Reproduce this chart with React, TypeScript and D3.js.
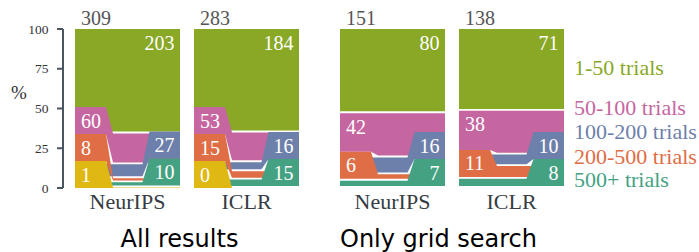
import React from "react";
import * as d3 from "d3";

const categories = ["1-50 trials", "50-100 trials", "100-200 trials", "200-500 trials", "500+ trials", "unknown"];
const colors = ["#89a826", "#c666a1", "#6d7fab", "#df6d45", "#44a283", "#e0b813"];
const labelSide = ["right", "left", "right", "left", "right", "left"];
const groupTitles = ["All results", "Only grid search"];
const venues = ["NeurIPS", "ICLR"];
const allNeurIPS = [203, 60, 27, 8, 10, 1];
const allICLR = [184, 53, 16, 15, 15, 0];
const gridNeurIPS = [80, 42, 16, 6, 7, 0];
const gridICLR = [71, 38, 10, 11, 8, 0];
const labeledAll = [true, true, true, true, true, true];
const labeledGrid = [true, true, true, true, true, false];
const yTicks = [0, 25, 50, 75, 100];
const legendLabels = ["1-50 trials", "50-100 trials", "100-200 trials", "200-500 trials", "500+ trials"];

const SERIF = "'Liberation Serif', 'DejaVu Serif', serif";
const SANS = "'DejaVu Sans', sans-serif";

const W = 699;
const H = 252;
const PANEL_W = 105;
const TAB_W = 31;
const TAB_H = 27;
const SLANT = 7;
const GAP = 1.9;

const y = d3.scaleLinear().domain([0, 100]).range([188, 29]);

type Band = { top: number; bot: number };
type Tab = { top: number; bot: number } | null;

function layout(values: number[], labeled: boolean[]) {
  const total = d3.sum(values);
  const n = values.length;
  const cum = d3.cumsum(values);
  const bands: Band[] = values.map((v, i) => {
    const start = i === 0 ? 0 : cum[i - 1];
    const top = y(100 - (start / total) * 100);
    const bot = y(100 - (cum[i] / total) * 100);
    const visBot = i === n - 1 ? bot : Math.max(top, bot - GAP);
    return { top, bot: visBot };
  });
  const tabs: { left: Tab; right: Tab }[] = values.map(() => ({ left: null, right: null }));
  (["left", "right"] as const).forEach((side) => {
    let limit = Infinity;
    for (let i = n - 1; i >= 0; i--) {
      if (!labeled[i] || labelSide[i] !== side) continue;
      const tb = Math.min(bands[i].bot, limit);
      const tt = Math.min(bands[i].top, tb - TAB_H);
      tabs[i][side] = { top: tt, bot: tb };
      limit = tt;
    }
  });
  return { total, bands, tabs };
}

const line = d3.line<[number, number]>().curve(d3.curveLinearClosed);

function Panel({ x0, values, labeled, venue }: { x0: number; values: number[]; labeled: boolean[]; venue: string }) {
  const { total, bands, tabs } = layout(values, labeled);
  const xr = x0 + PANEL_W;
  const xa = x0 + TAB_W;
  const xb = xa + SLANT;
  const xa2 = xr - 30.5;
  const xb2 = xa2 - SLANT;
  return (
    <g>
      {bands.map((b, i) => {
        const tl = tabs[i].left;
        const tr = tabs[i].right;
        const pts: [number, number][] = [];
        if (tl) pts.push([x0, tl.top], [xa, tl.top], [xb, b.top]);
        else pts.push([x0, b.top]);
        if (tr) pts.push([xb2, b.top], [xa2, tr.top], [xr, tr.top], [xr, tr.bot], [xa2, tr.bot], [xb2, b.bot]);
        else pts.push([xr, b.top], [xr, b.bot]);
        if (tl) pts.push([xb, b.bot], [xa, tl.bot], [x0, tl.bot]);
        else pts.push([x0, b.bot]);
        return <path key={i} d={line(pts) || ""} fill={colors[i]} />;
      })}
      {bands.map((b, i) => {
        if (!labeled[i]) return null;
        const side = labelSide[i];
        const t = side === "left" ? tabs[i].left : tabs[i].right;
        if (!t) return null;
        return (
          <text
            key={"l" + i}
            x={side === "left" ? x0 + 6 : xr - 5.5}
            y={t.top + 13.5}
            textAnchor={side === "left" ? "start" : "end"}
            dominantBaseline="central"
            fill="#ffffff"
            fontFamily={SERIF}
            fontSize={20}
          >
            {values[i]}
          </text>
        );
      })}
      <text x={x0 + 6} y={25} fill="#555555" fontFamily={SERIF} fontSize={20}>
        {total}
      </text>
      <text x={x0 + PANEL_W / 2} y={209} textAnchor="middle" fill="#353c44" fontFamily={SERIF} fontSize={22}>
        {venue}
      </text>
    </g>
  );
}

export default function App() {
  const groupStarts = [75, 340];
  const panelStep = 119;
  const titleOffsets = [104.5, 98.5];
  const panelsData = [
    [allNeurIPS, allICLR],
    [gridNeurIPS, gridICLR],
  ];
  const labeledData = [labeledAll, labeledGrid];
  const legendY = [75, 115, 139, 164, 187];
  return (
    <svg
      width={W}
      height={H}
      style={{ position: "absolute", left: 0, top: 0, background: "#fff" }}
    >
      <rect x={0} y={0} width={W} height={H} fill="#fff" />
      {/* y axis */}
      <line x1={63} x2={63} y1={y(0)} y2={y(100)} stroke="#4a5560" strokeWidth={2} />
      {yTicks.map((t) => (
        <g key={t}>
          <line x1={57} x2={63} y1={y(t)} y2={y(t)} stroke="#4a5560" strokeWidth={2} />
          <text x={48.5} y={y(t)} textAnchor="end" dominantBaseline="central" fill="#333" fontFamily={SERIF} fontSize={13.5}>
            {t}
          </text>
        </g>
      ))}
      <text x={19} y={92} textAnchor="middle" dominantBaseline="central" fill="#333" fontFamily={SERIF} fontSize={19}>
        %
      </text>
      {groupStarts.map((gx, g) => (
        <g key={g}>
          {venues.map((v, j) => (
            <Panel key={v} x0={gx + j * panelStep} values={panelsData[g][j]} labeled={labeledData[g]} venue={v} />
          ))}
          <text x={gx + titleOffsets[g]} y={247} textAnchor="middle" fill="#000" fontFamily={SANS} fontSize={24}>
            {groupTitles[g]}
          </text>
        </g>
      ))}
      {legendLabels.map((l, i) => (
        <text key={l} x={574} y={legendY[i]} fill={colors[categories.indexOf(l)]} fontFamily={SERIF} fontSize={22}>
          {l}
        </text>
      ))}
    </svg>
  );
}
